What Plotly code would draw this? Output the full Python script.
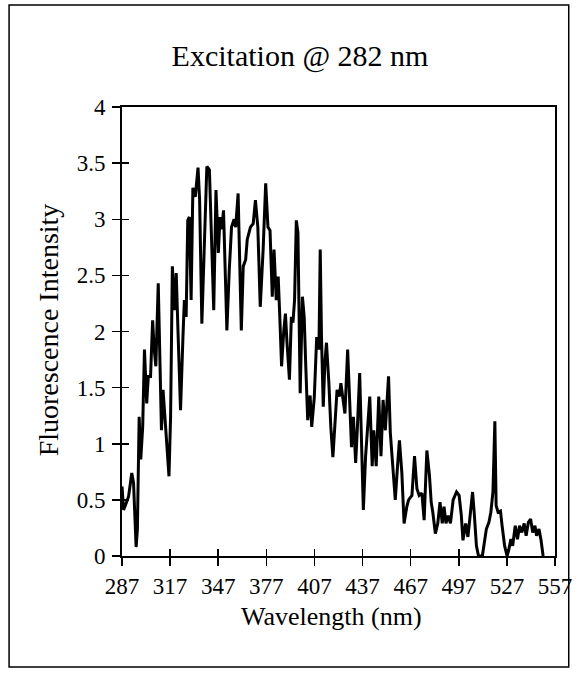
import plotly.graph_objects as go

wavelength = [287, 288, 289.6, 291.1, 293.1, 294.2, 295.8, 296.6, 297.7, 298.7, 299.9, 301, 302.4, 303.4,
              304.8, 306.1, 307.1, 308.1, 309.6, 310.6, 311.6, 312.6, 314.2, 316.3, 317.3, 318.4, 319.8,
              320.8, 321.9, 323.5, 325, 325.9, 327, 328, 329, 330.1, 331.2, 332.7, 334.4, 335.4, 336.8,
              338.5, 339.9, 341.5, 343, 344.2, 345.6, 347.1, 348.1, 349.3, 350.3, 351.4, 352.4, 353.9,
              355.3, 356.9, 357.9, 359.4, 360.4, 361.4, 362.6, 364.1, 365.1, 367.1, 368.8, 370.2, 371.7,
              373.2, 375, 376.6, 378, 379.3, 380.7, 381.8, 383.2, 384.4, 385.4, 386.5, 387.9, 388.9,
              389.9, 391.4, 392.6, 393.6, 394.6, 395.7, 396.7, 398.1, 399.5, 400.6, 401.6, 402.8, 404.3,
              405.3, 406.9, 408.4, 409.8, 410.6, 411.4, 412.5, 413.5, 414.5, 416, 417.2, 418.5, 419.8,
              421.1, 422.5, 423.5, 424.6, 426, 427.7, 428.6, 430.1, 431.3, 432.7, 433.8, 435.2, 436.2,
              437.5, 438.9, 440.3, 441.5, 443, 444, 445.5, 447.1, 448.5, 449.8, 451.2, 452.2, 453.2,
              454.3, 455.9, 457.4, 458.8, 460, 461.5, 462.9, 464.6, 465.7, 467.8, 469.4, 470.9, 472.3,
              474, 475.4, 477.1, 478.7, 479.8, 480.8, 482.4, 483.9, 485.3, 486.7, 487.8, 489, 490.4,
              491.8, 493.5, 495.6, 497.2, 498.6, 499.6, 501.3, 502.7, 504.2, 505.6, 506.6, 508, 509.3,
              511.7, 514.2, 515.8, 517, 518.3, 519.5, 520.3, 521.5, 523, 524, 525.6, 527.1, 528.1, 529.5,
              530.6, 532.2, 533.6, 534.9, 536.3, 537.8, 539, 540.4, 541.8, 543.1, 544.5, 545.5, 547,
              548.2, 549.6]

intensity = [0.62, 0.41, 0.47, 0.53, 0.74, 0.65, 0.08, 0.24, 1.24, 0.86, 1.15, 1.84, 1.36, 1.6,
             1.6, 2.1, 1.84, 1.69, 2.43, 1.72, 1.12, 1.48, 1.18, 0.71, 1.24, 2.58, 2.19,
             2.52, 2.01, 1.3, 1.95, 2.28, 2.13, 2.99, 3.02, 2.28, 3.28, 3.2, 3.46, 3.17, 2.07,
             2.85, 3.47, 3.44, 2.73, 2.19, 3.26, 2.7, 3.02, 2.91, 3.08, 2.58, 2.01, 2.55,
             2.93, 3.0, 2.93, 3.23, 2.61, 2.01, 2.58, 2.64, 2.82, 2.93, 2.96, 3.17, 2.93,
             2.22, 2.73, 3.32, 2.93, 2.9, 2.31, 2.73, 2.28, 2.49, 2.13, 1.69, 2.01, 2.16,
             1.9, 1.57, 2.13, 2.08, 2.28, 2.99, 2.88, 1.45, 2.31, 2.13, 1.69, 1.21, 1.43,
             1.15, 1.41, 1.95, 1.84, 2.73, 1.95, 1.33, 1.72, 1.9, 1.54, 1.15, 0.88, 1.18,
             1.48, 1.42, 1.54, 1.42, 1.27, 1.84, 1.48, 0.97, 1.24, 0.83, 1.15, 1.63, 1.1,
             0.41, 0.89, 1.21, 1.42, 0.8, 1.12, 0.8, 1.42, 0.89, 1.39, 1.12, 1.39, 1.6,
             1.1, 0.74, 0.5, 0.8, 1.03, 0.74, 0.29, 0.44, 0.5, 0.54, 0.89, 0.6, 0.54,
             0.56, 0.32, 0.94, 0.72, 0.48, 0.39, 0.2, 0.29, 0.48, 0.29, 0.44, 0.29, 0.36,
             0.29, 0.5, 0.57, 0.54, 0.36, 0.14, 0.29, 0.17, 0.36, 0.57, 0.39, 0.09, 0,
             0, 0.24, 0.3, 0.39, 0.57, 1.2, 0.45, 0.39, 0.4, 0.27, 0.09, 0, 0.05, 0.15,
             0.09, 0.27, 0.15, 0.27, 0.21, 0.29, 0.18, 0.3, 0.33, 0.21, 0.27, 0.18, 0.24,
             0.15, 0]

x_ticks = [287, 317, 347, 377, 407, 437, 467, 497, 527, 557]
y_ticks = [0, 0.5, 1, 1.5, 2, 2.5, 3, 3.5, 4]

FONT = "Times New Roman, Liberation Serif, serif"

W, H = 584, 677
PL, PR, PT, PB = 122, 563, 107, 556  # plot area in page pixels
PW, PH = PR - PL, PB - PT

fig = go.Figure()
fig.add_trace(go.Scatter(x=wavelength, y=intensity, mode="lines",
                         line=dict(color="black", width=3), showlegend=False,
                         hoverinfo="skip"))

axis_common = dict(showgrid=False, zeroline=False, showline=True, linecolor="black",
                   linewidth=2, tickcolor="black", tickwidth=1.5, ticklen=8,
                   ticklabeloverflow="allow")

fig.update_layout(
    width=W, height=H,
    paper_bgcolor="white", plot_bgcolor="white",
    margin=dict(l=PL, r=W - PR, t=PT, b=H - PB, pad=0),
    font=dict(family=FONT, color="black", size=23),
    title=dict(text="Excitation @ 282 nm", x=300 / W, xref="container",
               xanchor="center", y=1 - 55 / H, yanchor="middle",
               font=dict(size=30, family=FONT)),
    xaxis=dict(range=[287, 557], tickmode="array", tickvals=x_ticks,
               ticktext=[str(v) for v in x_ticks], ticks="outside", mirror=True,
               ticklabelstandoff=0, **axis_common),
    yaxis=dict(range=[0, 4], tickmode="array", tickvals=y_ticks, ticks="outside",
               mirror=True, ticklabelstandoff=2, **axis_common),
    xaxis2=dict(range=[287, 557], overlaying="x", anchor="y2", side="bottom",
                tickmode="array", tickvals=x_ticks, showticklabels=False, ticks="inside",
                showgrid=False, zeroline=False, showline=False, tickcolor="black",
                tickwidth=1.5, ticklen=7),
    yaxis2=dict(range=[0, 4], overlaying="y", anchor="x2", side="left",
                tickmode="array", tickvals=y_ticks, showticklabels=False, ticks="inside",
                showgrid=False, zeroline=False, showline=False, tickcolor="black",
                tickwidth=1.5, ticklen=7),
    annotations=[
        dict(text="Wavelength (nm)", xref="paper", yref="paper",
             x=(335 - PL) / PW, y=(PB - 616) / PH, xanchor="center", yanchor="middle",
             showarrow=False, font=dict(size=26, family=FONT)),
        dict(text="Fluorescence Intensity", xref="paper", yref="paper",
             x=(47 - PL) / PW, y=(PB - 330) / PH, xanchor="center", yanchor="middle",
             textangle=-90, showarrow=False, font=dict(size=28, family=FONT)),
    ],
    shapes=[dict(type="rect", xref="paper", yref="paper",
                 x0=(7 - PL) / PW, x1=(577 - PL) / PW,
                 y0=(PB - 667) / PH, y1=(PB - 5) / PH,
                 line=dict(color="black", width=1.5), fillcolor="rgba(0,0,0,0)",
                 layer="below")],
)

fig.add_trace(go.Scatter(x=[287], y=[0], xaxis="x2", yaxis="y2", mode="markers",
                         marker=dict(size=1, opacity=0), showlegend=False, hoverinfo="skip"))

# remove the default 8px page margin so the 584x677 figure fills the window exactly
fig.write_html("out.html", config={"displayModeBar": False, "staticPlot": True},
               post_script="document.body.style.margin='0px';")
